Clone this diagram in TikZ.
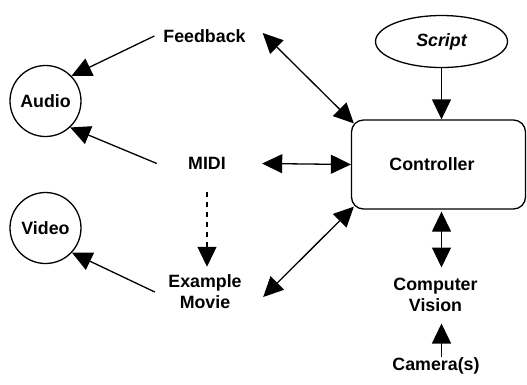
\documentclass[tikz,border=0pt]{standalone}
\usepackage{fontspec}
\setmainfont{Liberation Sans}
\usetikzlibrary{arrows.meta,shapes.geometric}
\begin{document}
\begin{tikzpicture}[x=1pt,y=-1pt,
  every node/.style={font=\fontsize{17.8}{21}\selectfont\bfseries},
  txt/.style={inner sep=0pt, align=center},
  circ/.style={circle,draw,line width=1.3pt,minimum size=71pt,inner sep=0pt},
  conn/.style={line width=1.3pt,-{Triangle[length=20pt,width=19pt]}},
  dbl/.style={line width=1.3pt,{Triangle[length=20pt,width=19pt]}-{Triangle[length=20pt,width=19pt]}},
]
\useasboundingbox (0,0) rectangle (527,384);
\node[circ] (audio) at (45.5,101) {Audio};
\node[circ] (video) at (45.5,228) {Video};
\node[txt,minimum width=100pt] (feedback) at (204.5,36) {Feedback};
\node[txt,minimum width=100pt] (midi) at (207,163.5) {MIDI};
\node[txt,minimum width=100pt] (movie) at (205,292) {Example\\Movie};
\node[ellipse,draw,line width=1.3pt,minimum width=132pt,minimum height=52pt,inner sep=0pt] (script) at (441.5,41.5) {\itshape Script};
\node[draw,rounded corners=12pt,line width=1.3pt,minimum width=174pt,minimum height=89pt] (ctrl) at (438.5,164.5) {};
\node[txt] (ctrltext) at (432,164) {Controller};
\node[txt] (cv) at (435.5,294.5) {Computer\\Vision};
\node[txt] (cam) at (436,366) {Camera(s)};

\draw[conn] (feedback.west) -- (audio.44);
\draw[conn] (midi.west) -- (audio.-47);
\draw[conn] (movie.west) -- (video.-43);
\draw[dbl] ([xshift=8pt,yshift=3pt]feedback.east) -- ([xshift=3pt,yshift=-4pt]ctrl.north west);
\draw[dbl] ([xshift=5pt]midi.east) -- (ctrl.west);
\draw[dbl] ([xshift=8pt,yshift=-5pt]movie.east) -- ([xshift=3pt,yshift=3pt]ctrl.south west);
\draw[conn] (script.south) -- (script.south |- ctrl.north);
\draw[dbl,shorten <=2pt,shorten >=10pt] (script.south |- ctrl.south) -- (script.south |- cv.north);
\draw[conn,shorten <=1pt,shorten >=12pt] (script.south |- cam.north) -- (script.south |- cv.south);
\draw[conn,dash pattern=on 5pt off 5pt,shorten <=22pt,shorten >=8pt] (midi.south) -- (midi.south |- movie.north);
\end{tikzpicture}
\end{document}
